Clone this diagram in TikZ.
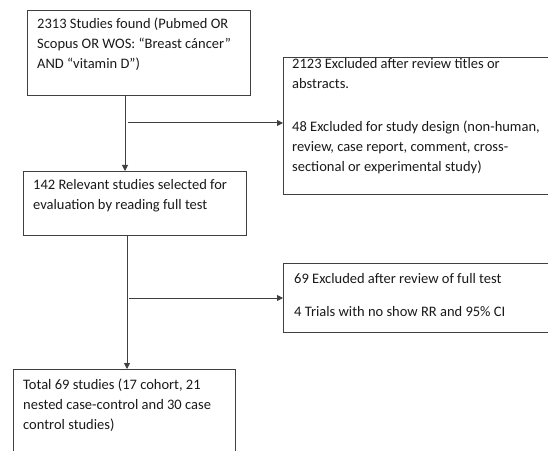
\documentclass[tikz,border=0pt]{standalone}
\usepackage{fontspec}
\setmainfont{Carlito}
\usetikzlibrary{arrows.meta}
\definecolor{linec}{HTML}{404040}
\tikzset{
  box/.style={draw=linec, line width=1pt, rectangle, inner sep=0pt, anchor=north west},
  txt/.style={anchor=base west, inner sep=0pt, align=left, font=\fontsize{14.5}{20}\selectfont, text=black!90},
  arr/.style={draw=linec, line width=1pt, -{Triangle[length=6pt,width=6pt]}}
}
\begin{document}
\begin{tikzpicture}[x=1pt,y=1pt]
\useasboundingbox (0,0) rectangle (548,450);
\clip (0,0) rectangle (548,450);
% boxes
\node[box, minimum width=223pt, minimum height=85pt] (b1) at (27,440) {};
\node[box, minimum width=280pt, minimum height=137pt] (r1) at (283,393) {};
\node[box, minimum width=223pt, minimum height=64pt] (b2) at (23,279) {};
\node[box, minimum width=280pt, minimum height=69pt] (r2) at (283,187) {};
\node[box, minimum width=222pt, minimum height=95pt] (b3) at (13,81) {};
% texts (anchored at the baseline of the last line)
\node[txt] (t1) at (37,381) {2313 Studies found (Pubmed OR\\Scopus OR WOS: “Breast cáncer”\\AND “vitamin D”)};
\node[txt] (t2) at (292,278) {2123 Excluded after review titles or\\abstracts.\\[23pt]48 Excluded for study design (non-human,\\review, case report, comment, cross-\\sectional or experimental study)};
\node[txt] (t3) at (33,240) {142 Relevant studies selected for\\evaluation by reading full test};
\node[txt] (t4) at (294,134) {69 Excluded after review of full test\\[13pt]4 Trials with no show RR and 95\% CI};
\node[txt] (t5) at (23,21) {Total 69 studies (17 cohort, 21\\nested case-control and 30 case\\control studies)};
% connectors
\coordinate (v1) at (125,0);
\coordinate (v2) at (127,0);
\coordinate (h1) at (128,327);
\coordinate (h2) at (129,152);
\draw[arr] (b1.south -| v1) -- (b2.north -| v1);
\draw[arr] (b2.south -| v2) -- (b3.north -| v2);
\draw[arr] (h1) -- (h1 -| r1.west);
\draw[arr] (h2) -- (h2 -| r2.west);
\end{tikzpicture}
\end{document}
